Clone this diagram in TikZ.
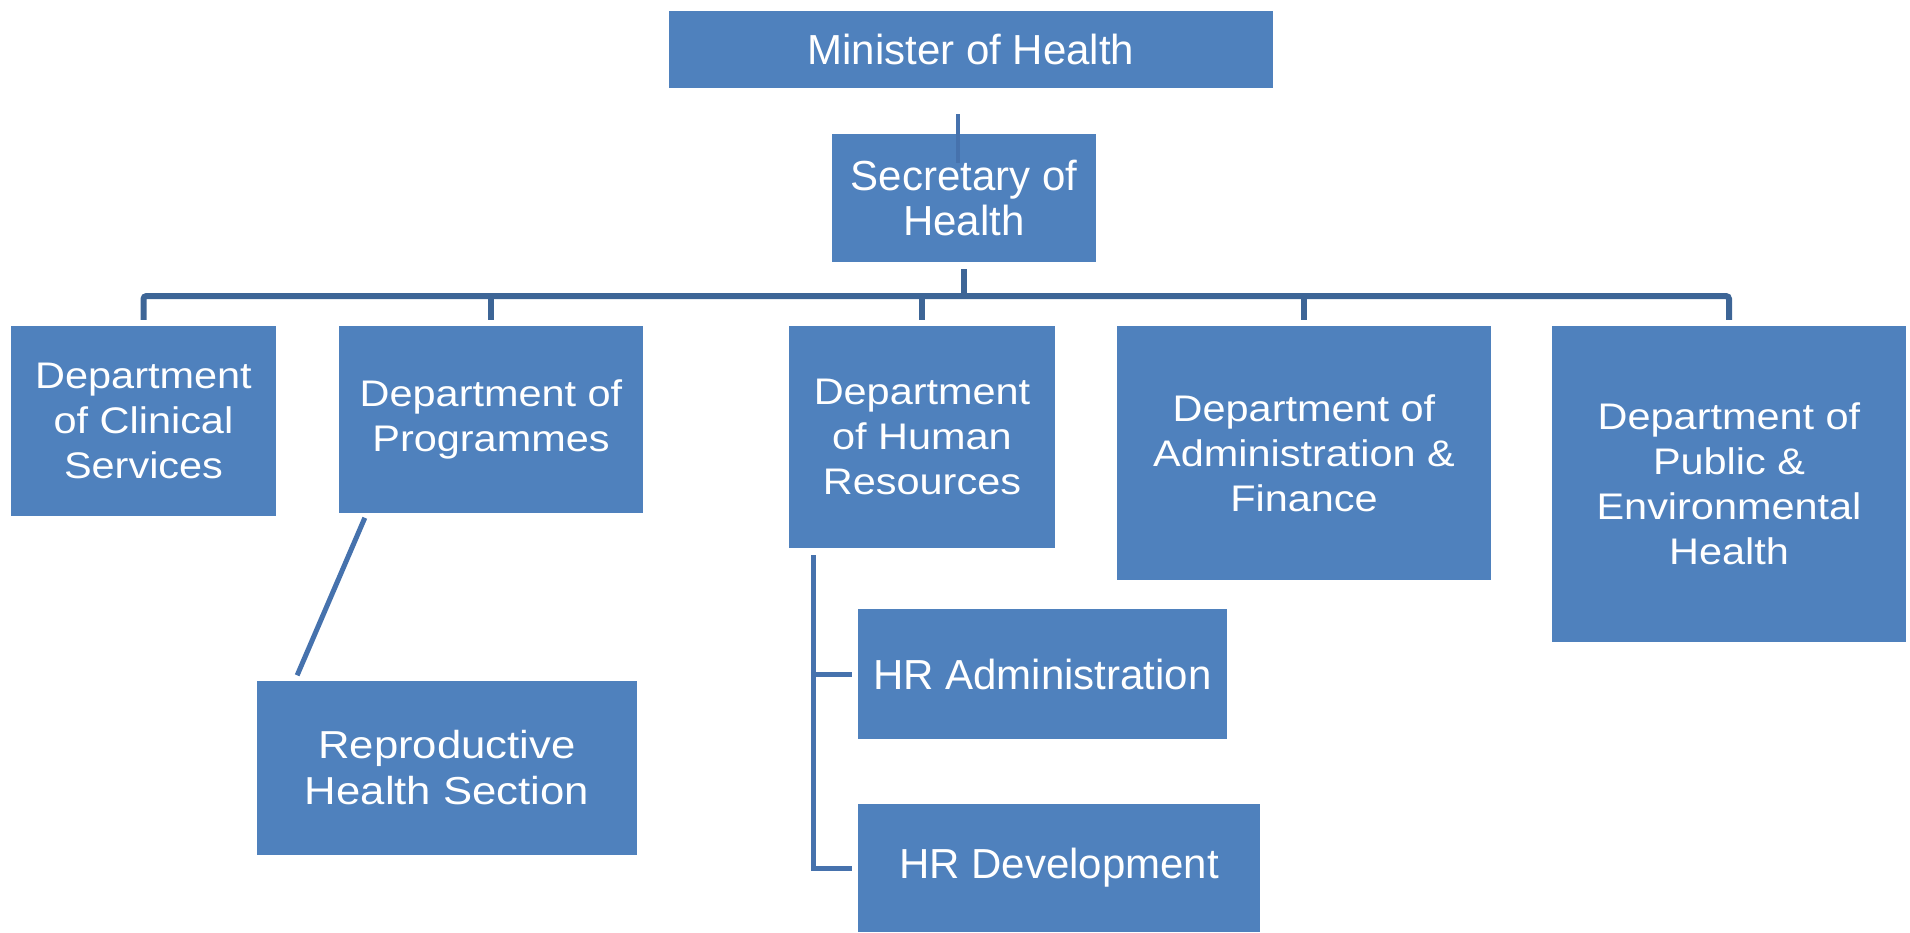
\documentclass[tikz,border=0pt]{standalone}
\usepackage{fontspec}
\setmainfont{Liberation Sans}
\newfontfamily\widefont[FakeStretch=1.12]{Liberation Sans}
\definecolor{boxblue}{HTML}{4F81BD}
\definecolor{busblue}{HTML}{3D6596}
\definecolor{linkblue}{HTML}{4672AD}
\tikzstyle{unit}=[fill=boxblue, text=white, align=center, inner sep=0pt, font=\fontsize{42}{45}\selectfont]
\tikzstyle{dept}=[unit, font=\widefont\fontsize{37}{45}\selectfont]
\tikzstyle{bus}=[busblue, line width=6pt]
\tikzstyle{link}=[linkblue, line width=5pt]

\begin{document}
\begin{tikzpicture}[x=1pt, y=-1pt]
\useasboundingbox (0,0) rectangle (1910,932);
% Top of the chart
    \node[unit, minimum width=604pt, minimum height=77pt] (minister) at (971,49.5) {Minister of Health};
    \node[unit, minimum width=264pt, minimum height=128pt] (secretary) at (964,198) {Secretary of\\Health};
% Departments
    \node[dept, minimum width=265pt, minimum height=190pt] (clinical) at (143.5,421) {Department\\of Clinical\\Services};
    \node[dept, minimum width=304pt, minimum height=187pt] (programmes) at (491,419.5) {Department of\\Programmes};
    \node[dept, minimum width=266pt, minimum height=222pt] (hr) at (922,437) {Department\\of Human\\Resources};
    \node[dept, minimum width=374pt, minimum height=254pt] (admin) at (1304,453) {Department of\\Administration \&\\Finance};
    \node[dept, minimum width=354pt, minimum height=316pt] (public) at (1729,484) {Department of\\Public \&\\Environmental\\Health};
% Sections
    \node[dept, font=\widefont\fontsize{39}{46}\selectfont, minimum width=380pt, minimum height=174pt] (repro) at (447,768) {Reproductive\\Health Section};
    \node[unit, minimum width=369pt, minimum height=130pt] (hradmin) at (1042.5,674) {HR Administration};
    \node[unit, minimum width=402pt, minimum height=128pt] (hrdev) at (1059,868) {HR Development};
% Bus under the secretary
    \coordinate (bus) at (964,296);
    \draw[bus, shorten <=7pt] (secretary) -- (bus);
    \draw[bus, rounded corners=3pt, shorten <=6pt, shorten >=6pt] (clinical) |- (bus) -| (public);
    \foreach \n in {programmes,hr,admin}
        \draw[bus, shorten >=6pt] (bus -| \n) -- (\n);
% Minister to secretary
    \draw[link, line width=4pt, shorten <=26pt, shorten >=-29pt] ([xshift=-13pt]minister.south) -- ([xshift=-6pt]secretary.north);
% Programmes to section
    \draw[link, shorten <=5pt, shorten >=6pt] ([xshift=28pt]programmes.south west) -- ([xshift=38pt]repro.north west);
% Human resources tree
    \coordinate (trunk) at ([xshift=25pt]hr.south west);
    \draw[link, shorten <=7pt, shorten >=6pt] (trunk) |- (hrdev);
    \draw[link, shorten >=6pt] (trunk |- hradmin) -- (hradmin);
\end{tikzpicture}
\end{document}
